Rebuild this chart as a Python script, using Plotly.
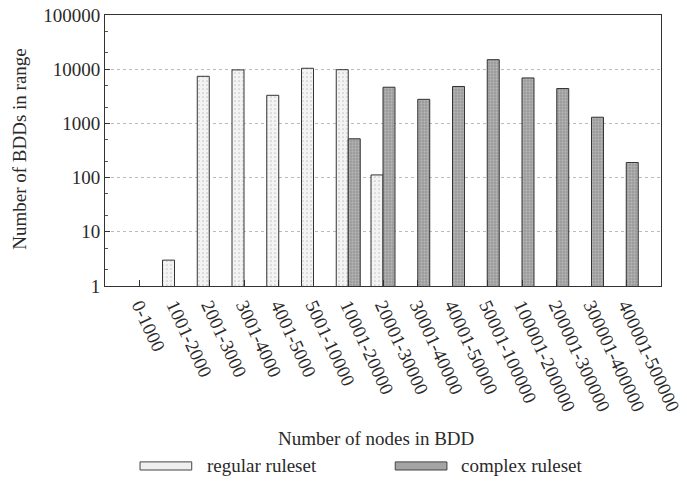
import plotly.graph_objects as go

categories = ["0-1000", "1001-2000", "2001-3000", "3001-4000", "4001-5000",
              "5001-10000", "10001-20000", "20001-30000", "30001-40000",
              "40001-50000", "50001-100000", "100001-200000", "200001-300000",
              "300001-400000", "400001-500000"]
regular = [None, 3, 7400, 9700, 3300, 10400, 9800, 112,
           None, None, None, None, None, None, None]
complex_ = [None, None, None, None, None, None, 520, 4650,
            2780, 4800, 15000, 6900, 4400, 1300, 190]
ytick_vals = [1, 10, 100, 1000, 10000, 100000]
ytick_text = ["1", "10", "100", "1000", "10000", "100000"]
series_names = ["regular ruleset", "complex ruleset"]

FONT = "Liberation Serif"
TXT = "#2a2a2a"
xs = list(range(len(categories)))

REG_FILL = "#efefef"
CPX_FILL = "#a4a4a4"

fig = go.Figure()
fig.add_trace(go.Bar(
    x=xs, y=regular, name=series_names[0], showlegend=False,
    marker=dict(color=REG_FILL,
                line=dict(color="#333333", width=1),
                pattern=dict(shape=".", bgcolor="#f3f3f3", fgcolor="#9a9a9a",
                             size=4, solidity=0.15)),
))
fig.add_trace(go.Bar(
    x=xs, y=complex_, name=series_names[1], showlegend=False,
    marker=dict(color=CPX_FILL,
                line=dict(color="#333333", width=1),
                pattern=dict(shape=".", bgcolor="#9c9c9c", fgcolor="#d6d6d6",
                             size=3, solidity=0.3)),
))

# manual legend (long swatches like the original)
legend_items = [
    (0.063, 0.156, 0.180, REG_FILL, series_names[0]),
    (0.522, 0.615, 0.637, CPX_FILL, series_names[1]),
]
shapes = []
annotations = []
for x0, x1, tx, col, name in legend_items:
    shapes.append(dict(type="rect", xref="paper", yref="paper",
                       x0=x0, x1=x1, y0=-0.679, y1=-0.649,
                       fillcolor=col, line=dict(color="#444444", width=1)))
    annotations.append(dict(xref="paper", yref="paper", x=tx, y=-0.664,
                            xanchor="left", yanchor="middle", showarrow=False,
                            text=name, font=dict(family=FONT, size=19, color=TXT)))

annotations.append(dict(xref="paper", yref="paper", x=0.487, y=-0.561,
                        xanchor="center", yanchor="middle", showarrow=False,
                        text="Number of nodes in BDD",
                        font=dict(family=FONT, size=19, color=TXT)))
annotations.append(dict(xref="paper", yref="paper", x=-0.153, y=0.506,
                        xanchor="center", yanchor="middle", showarrow=False,
                        textangle=-90, text="Number of BDDs in range",
                        font=dict(family=FONT, size=19, color=TXT)))

fig.update_layout(
    width=687, height=481,
    margin=dict(l=105, r=26, t=15, b=195),
    paper_bgcolor="white", plot_bgcolor="white",
    barmode="group", bargap=0.31, bargroupgap=0,
    font=dict(family=FONT, size=19, color=TXT),
    showlegend=False,
    shapes=shapes, annotations=annotations,
)
fig.update_xaxes(
    range=[-1, 15], tickmode="array", tickvals=xs, ticktext=categories,
    tickangle=65, ticks="inside", ticklen=6, tickcolor="#333333",
    showline=True, linecolor="#333333", linewidth=1, mirror=True,
    showgrid=False, zeroline=False, automargin=False,
    tickfont=dict(family=FONT, size=19, color=TXT),
)
fig.update_yaxes(
    type="log", range=[0, 5], tickmode="array", tickvals=ytick_vals, ticktext=ytick_text,
    ticks="inside", ticklen=5, tickcolor="#333333",
    minor=dict(ticks="inside", ticklen=3, tickcolor="#555555", showgrid=False),
    showline=True, linecolor="#333333", linewidth=1, mirror=True,
    showgrid=True, gridcolor="#bbbbbb", griddash="dot", gridwidth=1,
    zeroline=False, automargin=False,
    tickfont=dict(family=FONT, size=19, color=TXT),
)

fig.write_html("out.html")
